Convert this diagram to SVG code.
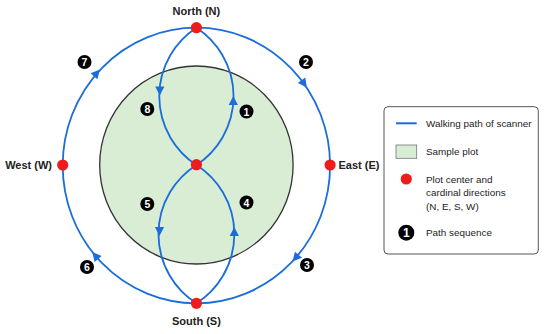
<svg xmlns="http://www.w3.org/2000/svg" xmlns:xlink="http://www.w3.org/1999/xlink" width="550" height="334" viewBox="0 0 550 334">
<style>
.path{fill:none;stroke:#1a6ddb;stroke-width:1.8}
.arrow{fill:#1a6ddb}
.dot{fill:#ee1c1c}
.badge{fill:#000}
.num{fill:#fff;font-family:"Liberation Sans",Arial,sans-serif;font-weight:bold;font-size:10.5px;text-anchor:middle;dominant-baseline:central}
.lbl{fill:#222;font-family:"Liberation Sans",Arial,sans-serif;font-weight:bold;font-size:11px;dominant-baseline:central}
.leg{fill:#222;font-family:"Liberation Sans",Arial,sans-serif;font-size:9.9px;dominant-baseline:central}
</style>
<defs>
<path id="ah" d="M5,0 L-4,-4.6 L-4,4.6 Z"/>
</defs>
<rect width="550" height="334" fill="#fff"/>
<g id="plot">
<ellipse cx="196.4" cy="165" rx="96.7" ry="99" fill="#d9ecd4" stroke="#333" stroke-width="1.3"/>
</g>
<g id="connectors">
<path class="path" d="M196.4,165 A82,82 0 0 0 196.4,27.7"/>
<path class="path" d="M196.4,27.7 A133.7,137.8 0 0 1 330.1,165.5"/>
<path class="path" d="M330.1,165.5 A133.7,137.8 0 0 1 196.4,303.3"/>
<path class="path" d="M196.4,303.3 A82,82 0 0 0 196.4,165"/>
<path class="path" d="M196.4,165 A82,82 0 0 0 196.4,303.3"/>
<path class="path" d="M196.4,303.3 A133.7,137.8 0 0 1 62.7,165.5"/>
<path class="path" d="M62.7,165.5 A133.7,137.8 0 0 1 196.4,27.7"/>
<path class="path" d="M196.4,27.7 A82,82 0 0 0 196.4,165"/>
<use href="#ah" class="arrow" transform="translate(233.3,101) rotate(-90)"/>
<use href="#ah" class="arrow" transform="translate(303.9,83.5) rotate(54.3)"/>
<use href="#ah" class="arrow" transform="translate(295.8,257.7) rotate(131.2)"/>
<use href="#ah" class="arrow" transform="translate(234.3,232) rotate(-90)"/>
<use href="#ah" class="arrow" transform="translate(159.5,231) rotate(90)"/>
<use href="#ah" class="arrow" transform="translate(95.5,255.9) rotate(229.9)"/>
<use href="#ah" class="arrow" transform="translate(96.6,73.3) rotate(-48.8)"/>
<use href="#ah" class="arrow" transform="translate(159.8,90.5) rotate(90)"/>
</g>
<g id="north"><circle class="dot" cx="196.4" cy="27.7" r="5.6"/><text class="lbl" x="196.4" y="10.5" text-anchor="middle">North (N)</text></g>
<g id="south"><circle class="dot" cx="196.4" cy="303.3" r="5.6"/><text class="lbl" x="196.4" y="320.5" text-anchor="middle">South (S)</text></g>
<g id="west"><circle class="dot" cx="62.7" cy="165" r="5.6"/><text class="lbl" x="52" y="165" text-anchor="end">West (W)</text></g>
<g id="east"><circle class="dot" cx="330.1" cy="165" r="5.6"/><text class="lbl" x="338.5" y="165">East (E)</text></g>
<g id="center"><circle class="dot" cx="196.4" cy="164.7" r="5.6"/></g>
<g id="seq1"><circle class="badge" cx="246.5" cy="111.5" r="7"/><text class="num" x="246.5" y="111.9">1</text></g>
<g id="seq2"><circle class="badge" cx="306" cy="62" r="7"/><text class="num" x="306" y="62.4">2</text></g>
<g id="seq3"><circle class="badge" cx="307" cy="265" r="7"/><text class="num" x="307" y="265.4">3</text></g>
<g id="seq4"><circle class="badge" cx="246.5" cy="202.5" r="7"/><text class="num" x="246.5" y="202.9">4</text></g>
<g id="seq5"><circle class="badge" cx="147.3" cy="204" r="7"/><text class="num" x="147.3" y="204.4">5</text></g>
<g id="seq6"><circle class="badge" cx="87" cy="267" r="7"/><text class="num" x="87" y="267.4">6</text></g>
<g id="seq7"><circle class="badge" cx="84.5" cy="62" r="7"/><text class="num" x="84.5" y="62.4">7</text></g>
<g id="seq8"><circle class="badge" cx="147.3" cy="109" r="7"/><text class="num" x="147.3" y="109.4">8</text></g>
<g id="legend">
<rect x="384" y="106.7" width="154.3" height="147.3" rx="4" fill="#fff" stroke="#555" stroke-width="1"/>
<line x1="396" y1="123.3" x2="416.7" y2="123.3" stroke="#1a6ddb" stroke-width="2"/>
<text class="leg" x="426" y="123.3">Walking path of scanner</text>
<rect x="396" y="145" width="20.7" height="13.3" fill="#d9ecd4" stroke="#777" stroke-width="0.8"/>
<text class="leg" x="426" y="151.7">Sample plot</text>
<circle class="dot" cx="406.3" cy="179" r="5.6"/>
<text class="leg" x="426" y="179">Plot center and</text>
<text class="leg" x="426" y="192.7">cardinal directions</text>
<text class="leg" x="426" y="206.4">(N, E, S, W)</text>
<circle class="badge" cx="406.3" cy="232.7" r="8"/>
<text class="num" x="406.3" y="233.1" style="font-size:12px">1</text>
<text class="leg" x="426" y="232.7">Path sequence</text>
</g>
</svg>
